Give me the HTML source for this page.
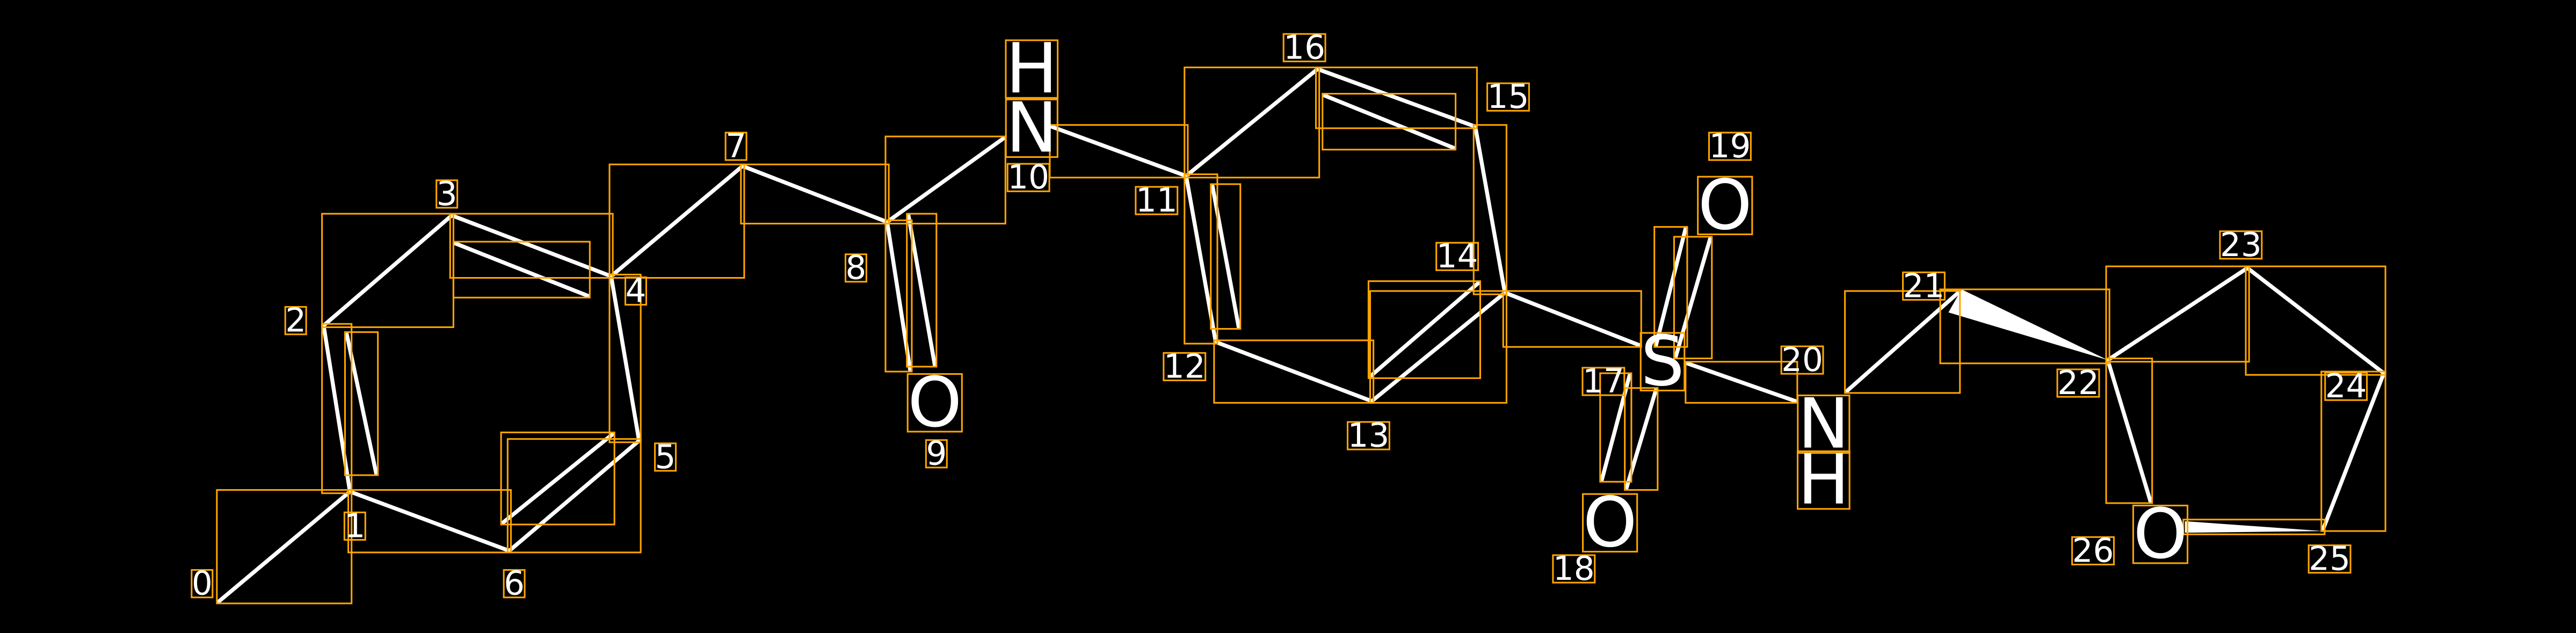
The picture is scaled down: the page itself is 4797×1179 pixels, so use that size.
<!DOCTYPE html>
<html><head><meta charset="utf-8"><style>
html,body{margin:0;padding:0;background:#000;}
svg{display:block;}
text{font-family:"DejaVu Sans","Liberation Sans",sans-serif;fill:#fff;text-anchor:middle;dominant-baseline:central;}
.d{font-size:20px;}
.a{font-size:42px;}
</style></head><body>
<svg id="s" width="4797" height="1179" viewBox="0 0 1568 385" preserveAspectRatio="none" xmlns="http://www.w3.org/2000/svg">
<rect x="0" y="0" width="1568" height="385" fill="#000"/>
<g id="bonds" stroke="#fff" stroke-width="2.4" stroke-linecap="round"></g>
<polygon points="1194,176 1186,190 1283,219" fill="#fff"/>
<polygon points="1330,317 1330,324 1414,323" fill="#fff"/>
<g id="boxes" fill="none" stroke="#FFA500" stroke-width="1"></g>
<g id="labels">
<text class="d" x="123" y="355">0</text>
<text class="d" x="216" y="320">1</text>
<text class="d" x="180" y="195">2</text>
<text class="d" x="272" y="118">3</text>
<text class="d" x="387" y="177">4</text>
<text class="d" x="405" y="278">5</text>
<text class="d" x="313" y="355">6</text>
<text class="d" x="448" y="89">7</text>
<text class="d" x="521" y="163">8</text>
<text class="d" x="570" y="276">9</text>
<text class="a" x="628" y="42">H</text>
<text class="a" x="628" y="78">N</text>
<text class="d" x="626" y="108">10</text>
<text class="d" x="704" y="122">11</text>
<text class="d" x="721" y="223">12</text>
<text class="d" x="833" y="265">13</text>
<text class="d" x="887" y="156">14</text>
<text class="d" x="918" y="59">15</text>
<text class="d" x="794" y="29">16</text>
<text class="d" x="976" y="232">17</text>
<text class="a" x="980" y="318">O</text>
<text class="d" x="958" y="346">18</text>
<text class="a" x="1012" y="220">S</text>
<text class="d" x="1053" y="89">19</text>
<text class="a" x="1050" y="125">O</text>
<text class="d" x="1097" y="219">20</text>
<text class="a" x="1110" y="258">N</text>
<text class="a" x="1110" y="292">H</text>
<text class="d" x="1171" y="174">21</text>
<text class="d" x="1265" y="233">22</text>
<text class="d" x="1364" y="149">23</text>
<text class="d" x="1428" y="235">24</text>
<text class="d" x="1418" y="340">25</text>
<text class="d" x="1274" y="335">26</text>
<text class="a" x="1315" y="325">O</text>
<text class="a" x="569" y="245">O</text>
</g>
</svg>
<script>
var L=[
[133,366,213,299],[213,299,197,198],[211,203,229,288],[197,198,275,131],[275,131,372,168],[277,148,358,180],
[372,168,389,268],[389,268,310,335],[306,318,373,264],[310,335,213,299],
[372,168,452,101],[452,101,540,135],[540,135,611,84],[540,135,554,225],[553,131,569,222],
[640,77,722,107],[722,107,802,42],[802,42,898,77],[806,58,885,90],[898,77,916,178],
[916,178,835,244],[834,229,900,172],[835,244,740,208],[740,208,722,107],[738,113,754,199],
[916,178,998,210],[1008,210,1026,139],[1020,217,1041,145],[975,292,992,228],[990,297,1008,237],
[1027,221,1093,244],[1124,238,1192,178],[1283,219,1368,163],[1368,163,1451,227],[1451,227,1414,322],[1283,219,1309,305]
];
var ns="http://www.w3.org/2000/svg",b=document.getElementById('bonds'),x=document.getElementById('boxes');
function r(a,c,w,h){var e=document.createElementNS(ns,'rect');e.setAttribute('x',a);e.setAttribute('y',c);e.setAttribute('width',w);e.setAttribute('height',h);x.appendChild(e);}
L.forEach(function(l){var e=document.createElementNS(ns,'line');e.setAttribute('x1',l[0]);e.setAttribute('y1',l[1]);e.setAttribute('x2',l[2]);e.setAttribute('y2',l[3]);b.appendChild(e);
var a=Math.min(l[0],l[2])-1,c=Math.min(l[1],l[3])-1;r(a,c,Math.abs(l[0]-l[2])+2,Math.abs(l[1]-l[3])+2);});
r(1181,176,103,45);r(1329,316,86,9);
document.querySelectorAll('#labels text').forEach(function(t){var bb=t.getBBox();var h=bb.height*0.72,w=bb.width;r(bb.x,bb.y+(bb.height-h)/2,w,h);});
</script>
</body></html>
